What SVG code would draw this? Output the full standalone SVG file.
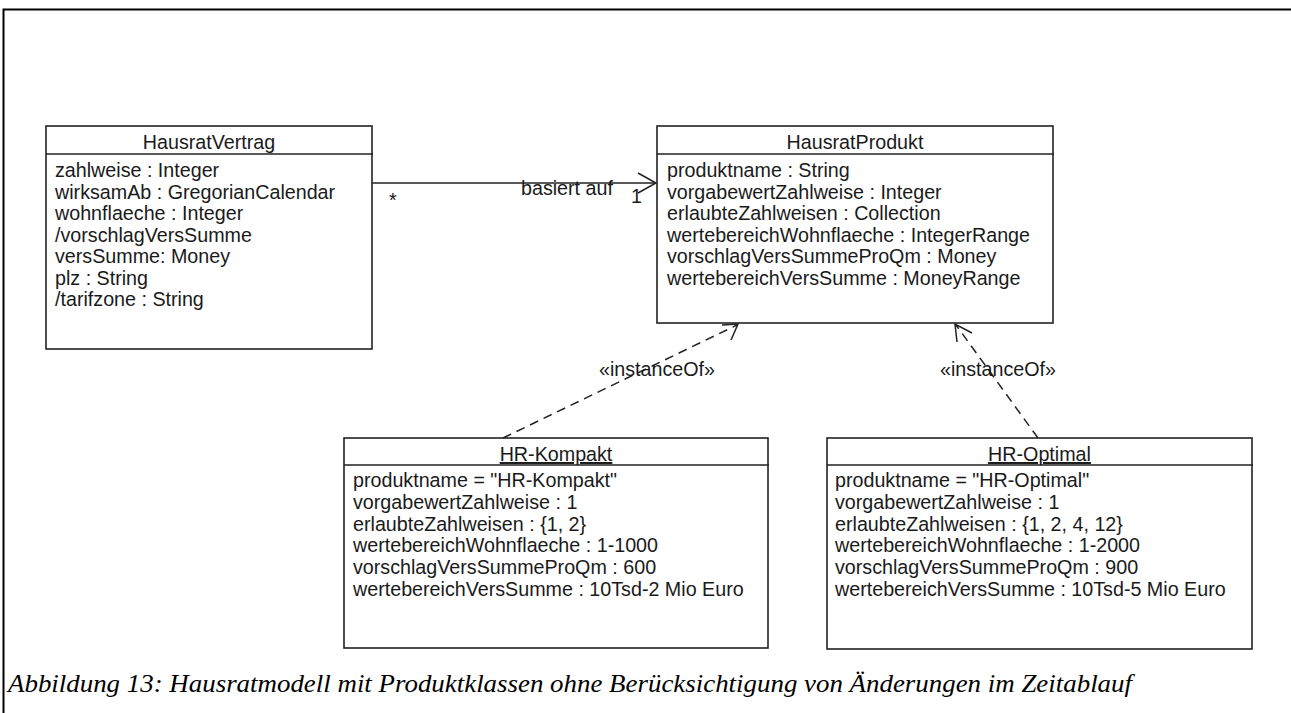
<svg xmlns="http://www.w3.org/2000/svg" width="1291" height="713" viewBox="0 0 1291 713">
<defs>
<style>
.box{fill:#fff;stroke:#222;stroke-width:1.6}
.sep{stroke:#222;stroke-width:1.6}
.t{font-family:"Liberation Sans",Arial,sans-serif;font-size:19.7px;fill:#1a1a1a}
.c{text-anchor:middle}
.u{text-decoration:underline}
.conn{fill:none;stroke:#222;stroke-width:1.5}
.dash{stroke-dasharray:9 6}
.cap{font-family:"Liberation Serif","Times New Roman",serif;font-style:italic;font-size:26px;fill:#000}
</style>
</defs>
<rect width="1291" height="713" fill="#fff"/>
<path d="M3.5 713 V9.5 H1291" fill="none" stroke="#000" stroke-width="2"/>

<g id="HausratVertrag">
<rect class="box" x="46" y="126" width="326" height="223"/>
<line class="sep" x1="46" y1="154" x2="373" y2="154"/>
<text class="t c" x="209" y="149">HausratVertrag</text>
<text class="t" x="55" y="177">zahlweise : Integer</text>
<text class="t" x="55" y="198.5">wirksamAb : GregorianCalendar</text>
<text class="t" x="55" y="220">wohnflaeche : Integer</text>
<text class="t" x="55" y="241.5">/vorschlagVersSumme</text>
<text class="t" x="55" y="263">versSumme: Money</text>
<text class="t" x="55" y="284.5">plz : String</text>
<text class="t" x="55" y="306">/tarifzone : String</text>
</g>

<g id="HausratProdukt">
<rect class="box" x="657" y="126" width="396" height="197"/>
<line class="sep" x1="657" y1="154" x2="1054" y2="154"/>
<text class="t c" x="855" y="149">HausratProdukt</text>
<text class="t" x="667" y="177">produktname : String</text>
<text class="t" x="667" y="198.5">vorgabewertZahlweise : Integer</text>
<text class="t" x="667" y="220">erlaubteZahlweisen : Collection</text>
<text class="t" x="667" y="241.5">wertebereichWohnflaeche : IntegerRange</text>
<text class="t" x="667" y="263">vorschlagVersSummeProQm : Money</text>
<text class="t" x="667" y="284.5">wertebereichVersSumme : MoneyRange</text>
</g>

<g id="HR-Kompakt">
<rect class="box" x="344" y="438" width="424" height="210"/>
<line class="sep" x1="344" y1="465" x2="769" y2="465"/>
<text class="t c u" x="556" y="461">HR-Kompakt</text>
<text class="t" x="353" y="487">produktname = "HR-Kompakt"</text>
<text class="t" x="353" y="508.8">vorgabewertZahlweise : 1</text>
<text class="t" x="353" y="530.6">erlaubteZahlweisen : {1, 2}</text>
<text class="t" x="353" y="552.4">wertebereichWohnflaeche : 1-1000</text>
<text class="t" x="353" y="574.2">vorschlagVersSummeProQm : 600</text>
<text class="t" x="353" y="596">wertebereichVersSumme : 10Tsd-2 Mio Euro</text>
</g>

<g id="HR-Optimal">
<rect class="box" x="827" y="438" width="425" height="211"/>
<line class="sep" x1="827" y1="465" x2="1253" y2="465"/>
<text class="t c u" x="1039.5" y="461">HR-Optimal</text>
<text class="t" x="835" y="487">produktname = "HR-Optimal"</text>
<text class="t" x="835" y="508.8">vorgabewertZahlweise : 1</text>
<text class="t" x="835" y="530.6">erlaubteZahlweisen : {1, 2, 4, 12}</text>
<text class="t" x="835" y="552.4">wertebereichWohnflaeche : 1-2000</text>
<text class="t" x="835" y="574.2">vorschlagVersSummeProQm : 900</text>
<text class="t" x="835" y="596">wertebereichVersSumme : 10Tsd-5 Mio Euro</text>
</g>

<g id="connectors">
<line class="conn" x1="372" y1="183" x2="656" y2="183"/>
<path class="conn" d="M638 173 L656 183 L638 193"/>
<text class="t" x="521" y="195">basiert auf</text>
<text class="t" x="389" y="207">*</text>
<text class="t" x="631" y="203">1</text>

<line class="conn dash" x1="503" y1="438" x2="737" y2="325"/>
<path class="conn" d="M722 325 L738 324 L731 340"/>
<text class="t c" x="657" y="376">«instanceOf»</text>

<line class="conn dash" x1="1038" y1="438" x2="956" y2="325"/>
<path class="conn" d="M972 333 L955 324 L957 342"/>
<text class="t c" x="998" y="376">«instanceOf»</text>
</g>

<text class="cap" x="8" y="692" textLength="1124" lengthAdjust="spacingAndGlyphs">Abbildung 13: Hausratmodell mit Produktklassen ohne Berücksichtigung von Änderungen im Zeitablauf</text>
</svg>
